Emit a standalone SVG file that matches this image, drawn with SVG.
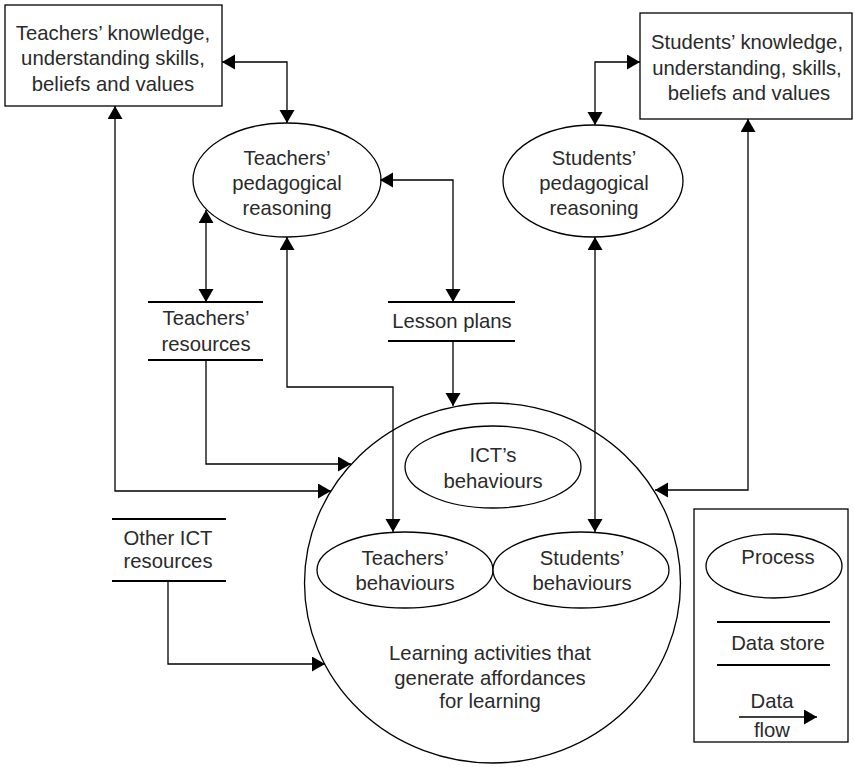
<svg xmlns="http://www.w3.org/2000/svg" width="854" height="767" viewBox="0 0 854 767">
<style>
text{font-family:"Liberation Sans",Arial,sans-serif;font-size:20.3px;fill:#2a2a2a;text-anchor:middle}
.sh{fill:#fff;stroke:#000;stroke-width:1.3}
.ds{stroke:#000;stroke-width:2}
.fl{fill:none;stroke:#000;stroke-width:1.3;marker-end:url(#ah)}
.bi{marker-start:url(#ah)}
</style>
<defs>
<marker id="ah" markerUnits="userSpaceOnUse" markerWidth="14" markerHeight="16" refX="13" refY="7.5" orient="auto-start-reverse" viewBox="0 0 14 16">
<path d="M0,0 L13,7.5 L0,15 z" fill="#000"/>
</marker>
</defs>
<rect width="854" height="767" fill="#fff"/>

<g id="teachers-knowledge">
<rect class="sh" x="5" y="5" width="217" height="101"/>
<text x="113" y="40">Teachers’ knowledge,</text>
<text x="113" y="65">understanding skills,</text>
<text x="113" y="91">beliefs and values</text>
</g>

<g id="students-knowledge">
<rect class="sh" x="640" y="13" width="212" height="106"/>
<text x="747" y="49">Students’ knowledge,</text>
<text x="747" y="75">understanding, skills,</text>
<text x="749" y="100">beliefs and values</text>
</g>

<g id="teachers-reasoning">
<ellipse class="sh" cx="287" cy="180" rx="94" ry="57"/>
<text x="287" y="165">Teachers’</text>
<text x="287" y="190">pedagogical</text>
<text x="287" y="215">reasoning</text>
</g>

<g id="students-reasoning">
<ellipse class="sh" cx="593" cy="181" rx="90" ry="56"/>
<text x="594" y="165">Students’</text>
<text x="594" y="190">pedagogical</text>
<text x="594" y="215">reasoning</text>
</g>

<g id="teachers-resources">
<line class="ds" x1="148" y1="302" x2="263" y2="302"/>
<line class="ds" x1="148" y1="360" x2="263" y2="360"/>
<text x="206" y="325">Teachers’</text>
<text x="206" y="351">resources</text>
</g>

<g id="lesson-plans">
<line class="ds" x1="388" y1="302" x2="515" y2="302"/>
<line class="ds" x1="388" y1="341" x2="515" y2="341"/>
<text x="452" y="328">Lesson plans</text>
</g>

<g id="other-ict">
<line class="ds" x1="112" y1="519" x2="226" y2="519"/>
<line class="ds" x1="112" y1="581" x2="226" y2="581"/>
<text x="168" y="545">Other ICT</text>
<text x="168" y="568">resources</text>
</g>

<g id="learning-activities">
<ellipse class="sh" cx="492.5" cy="583" rx="188" ry="180"/>
<text x="490" y="660">Learning activities that</text>
<text x="490" y="685">generate affordances</text>
<text x="490" y="708">for learning</text>
</g>

<g id="ict-behaviours">
<ellipse class="sh" cx="493" cy="467" rx="88" ry="41"/>
<text x="493" y="462">ICT’s</text>
<text x="493" y="488">behaviours</text>
</g>

<g id="teachers-behaviours">
<ellipse class="sh" cx="405" cy="570" rx="88" ry="38"/>
<text x="405" y="565">Teachers’</text>
<text x="405" y="590">behaviours</text>
</g>

<g id="students-behaviours">
<ellipse class="sh" cx="581" cy="570" rx="88" ry="38"/>
<text x="582" y="565">Students’</text>
<text x="582" y="590">behaviours</text>
</g>

<g id="legend">
<rect class="sh" x="694" y="509" width="154" height="233"/>
<ellipse class="sh" cx="774" cy="566" rx="68" ry="32"/>
<text x="778" y="564">Process</text>
<line class="ds" x1="717" y1="622" x2="830" y2="622"/>
<line class="ds" x1="717" y1="665" x2="830" y2="665"/>
<text x="778" y="650">Data store</text>
<path class="fl" d="M739,717 H817"/>
<text x="772" y="708">Data</text>
<text x="772" y="737">flow</text>
</g>

<g id="connectors">
<path class="fl bi" d="M222,62 H287 V123"/>
<path class="fl bi" d="M115,106 V491 H331"/>
<path class="fl bi" d="M640,62 H595 V125"/>
<path class="fl bi" d="M748,119 V490 H655"/>
<path class="fl bi" d="M380,180 H453 V302"/>
<path class="fl" d="M453,341 V406"/>
<path class="fl bi" d="M206,210 V302"/>
<path class="fl" d="M206,360 V464 H351"/>
<path class="fl bi" d="M287,237 V387 H393 V532"/>
<path class="fl bi" d="M595,237 V532"/>
<path class="fl" d="M168,581 V664 H325"/>
</g>
</svg>
